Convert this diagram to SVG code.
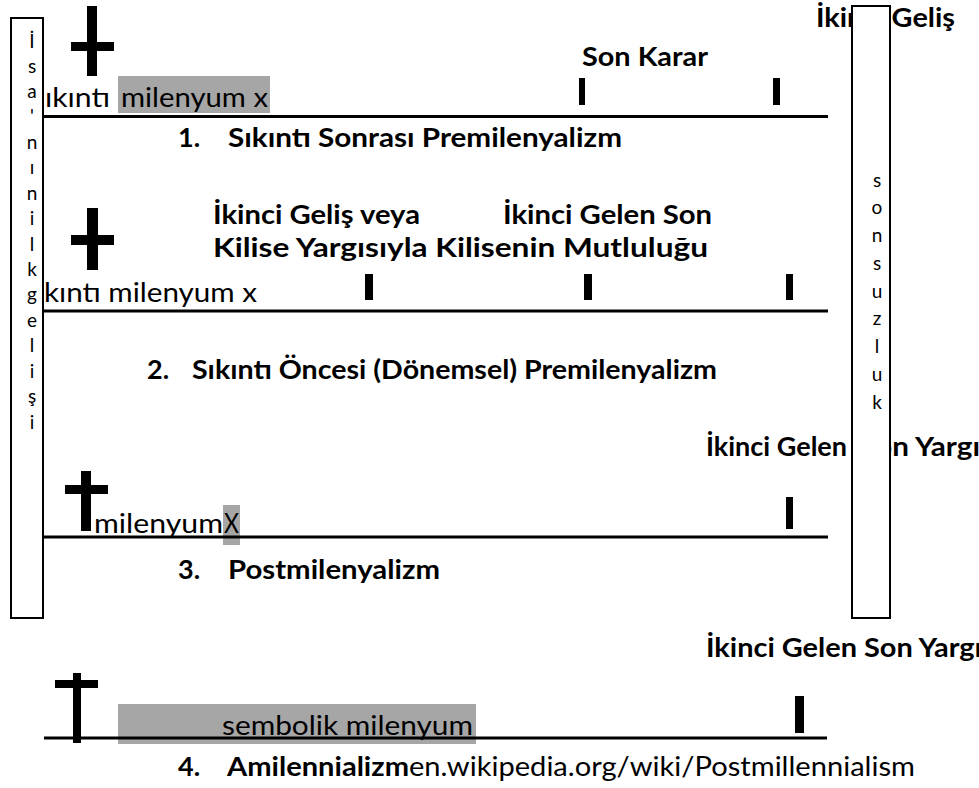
<svg xmlns="http://www.w3.org/2000/svg" width="979" height="788" viewBox="0 0 979 788">
<style>
.b{font-family:Lato,"Open Sans","Liberation Sans",sans-serif;font-weight:bold;font-size:27px;fill:#000}
.r{font-family:Lato,"Open Sans","Liberation Sans",sans-serif;font-size:27px;fill:#000}
.v{font-family:Lato,"Open Sans","Liberation Sans",sans-serif;font-size:19px;fill:#000;text-anchor:middle}
.hl{fill:#a6a6a6}
.tl{stroke:#000;stroke-width:3;fill:none}
.tk{fill:#000}
.box{fill:#fff;stroke:#000;stroke-width:2}
</style>
<rect width="979" height="788" fill="#fff"/>

<g id="row1">
  <rect class="hl" x="118" y="76" width="152" height="37"/>
  <text class="r" x="45" y="107" textLength="65" lengthAdjust="spacingAndGlyphs">ıkıntı</text>
  <text class="r" x="121" y="107" textLength="147" lengthAdjust="spacingAndGlyphs">milenyum x</text>
  <text class="b" x="582" y="66" textLength="126" lengthAdjust="spacingAndGlyphs">Son Karar</text>
  <text class="b" x="816" y="27" textLength="139" lengthAdjust="spacingAndGlyphs">İkinci Geliş</text>
  <text class="b" x="178" y="147">1.</text>
  <text class="b" x="228" y="147" textLength="394" lengthAdjust="spacingAndGlyphs">Sıkıntı Sonrası Premilenyalizm</text>
  <path class="tk" d="M87 6h10v70h-10z M71 42h43v9h-43z"/>
  <rect class="tk" x="579" y="78" width="6" height="27"/>
  <rect class="tk" x="773" y="78" width="7" height="27"/>
</g>

<g id="row2">
  <text class="b" x="213" y="224" textLength="207" lengthAdjust="spacingAndGlyphs">İkinci Geliş veya</text>
  <text class="b" x="503" y="224" textLength="209" lengthAdjust="spacingAndGlyphs">İkinci Gelen Son</text>
  <text class="b" x="213" y="257" textLength="495" lengthAdjust="spacingAndGlyphs">Kilise Yargısıyla Kilisenin Mutluluğu</text>
  <text class="r" x="44" y="302" textLength="213" lengthAdjust="spacingAndGlyphs">kıntı milenyum x</text>
  <text class="b" x="147" y="379">2.</text>
  <text class="b" x="192" y="379" textLength="525" lengthAdjust="spacingAndGlyphs">Sıkıntı Öncesi (Dönemsel) Premilenyalizm</text>
  <path class="tk" d="M87 208h11v62h-11z M71 235h43v10h-43z"/>
  <rect class="tk" x="365" y="274" width="8" height="26"/>
  <rect class="tk" x="584" y="274" width="8" height="26"/>
  <rect class="tk" x="786" y="274" width="7" height="26"/>
</g>

<g id="row3">
  <text class="b" x="706" y="456" textLength="141" lengthAdjust="spacingAndGlyphs">İkinci Gelen</text>
  <text class="b" x="859" y="456" textLength="121" lengthAdjust="spacingAndGlyphs">Son Yargı</text>
  <rect class="hl" x="223" y="505" width="17" height="40"/>
  <text class="r" x="94" y="533" textLength="129" lengthAdjust="spacingAndGlyphs">milenyum</text>
  <text class="r" x="224" y="533" textLength="15" lengthAdjust="spacingAndGlyphs">X</text>
  <text class="b" x="178" y="579">3.</text>
  <text class="b" x="228" y="579" textLength="212" lengthAdjust="spacingAndGlyphs">Postmilenyalizm</text>
  <path class="tk" d="M81 471h10v60h-10z M65 485h43v9h-43z"/>
  <rect class="tk" x="786" y="497" width="7" height="32"/>
</g>

<g id="row4">
  <text class="b" x="706" y="657" textLength="276" lengthAdjust="spacingAndGlyphs">İkinci Gelen Son Yargı</text>
  <rect class="hl" x="118" y="704" width="358" height="40"/>
  <text class="r" x="222" y="735" textLength="251" lengthAdjust="spacingAndGlyphs">sembolik milenyum</text>
  <text class="b" x="178" y="776">4.</text>
  <text class="b" x="227" y="776" textLength="182" lengthAdjust="spacingAndGlyphs">Amilennializm</text>
  <text class="r" x="409" y="776" textLength="506" lengthAdjust="spacingAndGlyphs">en.wikipedia.org/wiki/Postmillennialism</text>
  <path class="tk" d="M73 673h8v70h-8z M55 680h43v8h-43z"/>
  <rect class="tk" x="795" y="696" width="9" height="37"/>
</g>

<g id="connectors">
  <line class="tl" x1="43" y1="116.5" x2="828" y2="116.5"/>
  <line class="tl" x1="43" y1="311" x2="828" y2="311"/>
  <line class="tl" x1="43" y1="537" x2="828" y2="537"/>
  <line class="tl" x1="44" y1="738" x2="827" y2="738"/>
</g>

<g id="isanin-ilk-gelisi">
  <rect class="box" x="11" y="18" width="32" height="600"/>
  <text class="v" x="32" y="48">İ</text>
  <text class="v" x="32" y="73">s</text>
  <text class="v" x="32" y="98">a</text>
  <text class="v" x="32" y="123">'</text>
  <text class="v" x="32" y="149">n</text>
  <text class="v" x="32" y="174">ı</text>
  <text class="v" x="32" y="200">n</text>
  <text class="v" x="32" y="225">i</text>
  <text class="v" x="32" y="251">l</text>
  <text class="v" x="32" y="276">k</text>
  <text class="v" x="32" y="301">g</text>
  <text class="v" x="32" y="327">e</text>
  <text class="v" x="32" y="352">l</text>
  <text class="v" x="32" y="378">i</text>
  <text class="v" x="32" y="403">ş</text>
  <text class="v" x="32" y="429">i</text>
</g>

<g id="sonsuzluk">
  <rect class="box" x="852" y="6" width="38" height="612"/>
  <text class="v" x="877" y="187">s</text>
  <text class="v" x="877" y="214">o</text>
  <text class="v" x="877" y="242">n</text>
  <text class="v" x="877" y="270">s</text>
  <text class="v" x="877" y="298">u</text>
  <text class="v" x="877" y="325">z</text>
  <text class="v" x="877" y="353">l</text>
  <text class="v" x="877" y="381">u</text>
  <text class="v" x="877" y="409">k</text>
</g>
</svg>
